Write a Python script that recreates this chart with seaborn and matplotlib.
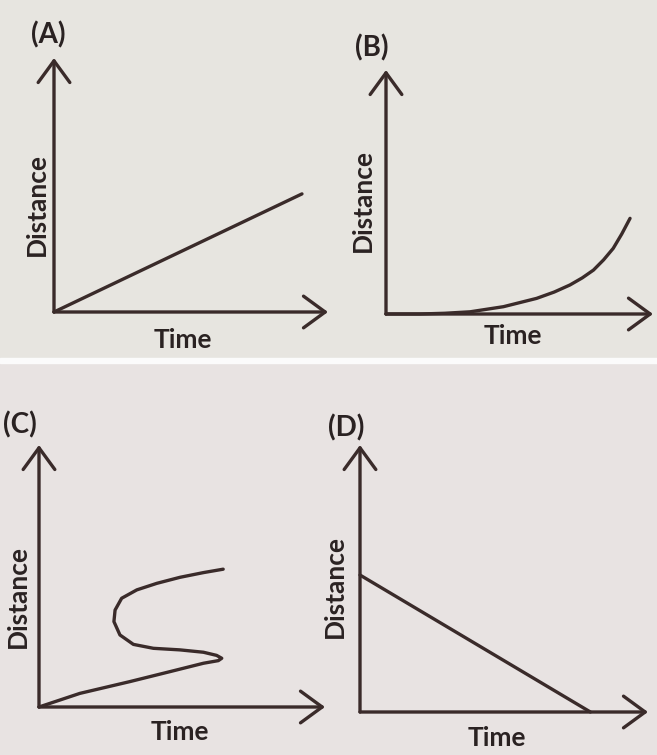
import matplotlib
matplotlib.use("Agg")
import matplotlib.pyplot as plt
import pandas as pd
import seaborn as sns
from matplotlib.patches import Rectangle

# Curves, in units where each axis runs 0..10
# (A) uniform motion: straight line from the origin
a_time = [0.0, 9.05]
a_dist = [0.0, 4.65]

# (B) accelerating: convex curve
b_time = [0.0, 1.27, 2.2, 3.15, 4.4, 5.64, 6.3, 6.89, 7.35, 7.77, 8.15, 8.51, 8.83, 9.14]
b_dist = [0.0, 0.0, 0.03, 0.09, 0.3, 0.64, 0.9, 1.19, 1.48, 1.8, 2.22, 2.69, 3.28, 3.92]

# (C) impossible graph: curve turns back in time
c_time = [0.0, 1.43, 3.18, 4.58, 5.75, 6.27, 6.39, 6.21, 5.75, 4.93, 4.0, 3.3,
          2.83, 2.62, 2.66, 2.89, 3.42, 4.12, 4.93, 5.75, 6.44]
c_dist = [0.0, 0.52, 0.97, 1.35, 1.67, 1.77, 1.86, 1.97, 2.09, 2.18, 2.24, 2.39,
          2.75, 3.26, 3.70, 4.15, 4.47, 4.72, 4.95, 5.13, 5.26]

# (D) distance falling to zero
d_time = [0.0, 8.0]
d_dist = [5.13, 0.0]

panels = ["(A)", "(B)", "(C)", "(D)"]
x_label = "Time"
y_label = "Distance"

W, H = 657, 755
INK = "#3a2b2a"
TEXT = "#2a2222"

sns.set_theme(style="white")
plt.rcParams["font.family"] = ["Lato", "DejaVu Sans"]

fig = plt.figure(figsize=(W / 100, H / 100), dpi=100)
fig.patch.set_facecolor("#e7e5e0")
# lower half of the page photo and the white gap between the two halves
fig.add_artist(Rectangle((0, 0), 1, 1 - 362 / H, transform=fig.transFigure,
                         color="#e8e3e2", zorder=0))
fig.add_artist(Rectangle((0, 1 - 363 / H), 1, 5 / H, transform=fig.transFigure,
                         color="#fbfbfb", zorder=0))

# pixel layout: origin x, origin y, x-arrow tip, y-arrow tip
boxes = [(54, 312, 328, 58), (386, 314, 653, 70),
         (39, 707, 325, 445), (360, 712, 648, 445)]
tag_pos = [(48, 35), (372, 48), (20, 425), (346, 428)]
time_pos = [(183, 340), (513, 336), (180, 732), (497, 738)]
dist_pos = [(37, 205), (363, 200), (18, 597), (335, 587)]

curves = [(a_time, a_dist), (b_time, b_dist), (c_time, c_dist), (d_time, d_dist)]

for i, (ox, oy, tx, ty) in enumerate(boxes):
    ax = fig.add_axes([ox / W, 1 - oy / H, (tx - ox) / W, (oy - ty) / H])
    ax.set_xlim(0, 10)
    ax.set_ylim(0, 10)
    ax.patch.set_alpha(0)

    arrow = dict(arrowstyle="->,head_length=1.3,head_width=0.95", lw=2.4,
                 color=INK, shrinkA=0, shrinkB=0)
    ax.annotate("", xy=(10, 0), xytext=(0, 0), arrowprops=arrow)
    ax.annotate("", xy=(0, 10), xytext=(0, 0), arrowprops=arrow)

    df = pd.DataFrame({"time": curves[i][0], "distance": curves[i][1]})
    sns.lineplot(data=df, x="time", y="distance", sort=False, estimator=None,
                 ax=ax, color=INK, lw=2.4, clip_on=False,
                 solid_joinstyle="round", solid_capstyle="round")
    ax.axis("off")

    fig.text(tag_pos[i][0] / W, 1 - tag_pos[i][1] / H, panels[i],
             ha="center", va="center", fontsize=20, fontweight="bold", color=TEXT)
    fig.text(time_pos[i][0] / W, 1 - time_pos[i][1] / H, x_label,
             ha="center", va="center", fontsize=19, fontweight="bold", color=TEXT)
    fig.text(dist_pos[i][0] / W, 1 - dist_pos[i][1] / H, y_label,
             ha="center", va="center", rotation=90, fontsize=19,
             fontweight="bold", color=TEXT)

fig.savefig("out.png", dpi=100, facecolor=fig.get_facecolor())
